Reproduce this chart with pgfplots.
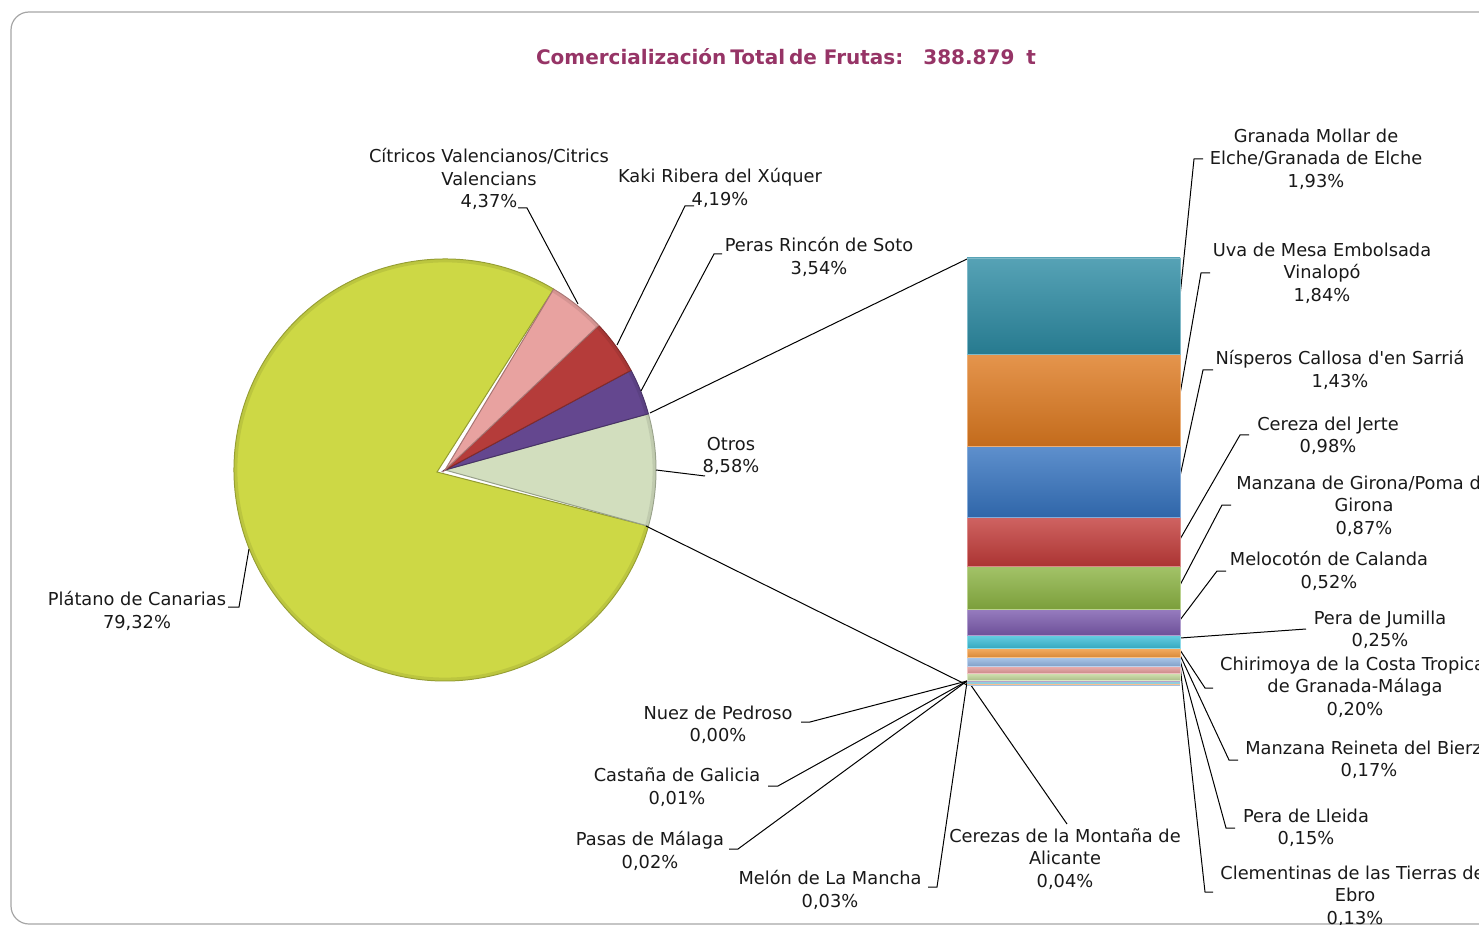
\documentclass[border=0pt]{standalone}
\usepackage{pgfplots}
\pgfplotsset{compat=1.18}
\usepackage{pgfplotstable}
\usepackage{fontspec}
\setmainfont{DejaVu Sans}
\newfontfamily\nq{DejaVu Sans}[Ligatures=TeXOff]
\usetikzlibrary{calc}

% pie colours
\definecolor{pPlat}{HTML}{CDD845}
\definecolor{pCitr}{HTML}{E8A2A0}
\definecolor{pKaki}{HTML}{B53C3A}
\definecolor{pPera}{HTML}{64478F}
\definecolor{pOtro}{HTML}{D2DEBE}
% bar colours
\definecolor{bGran}{HTML}{2C8BA3}
\definecolor{bUva}{HTML}{DE7A20}
\definecolor{bNisp}{HTML}{3674C0}
\definecolor{bCer}{HTML}{C33C3A}
\definecolor{bGir}{HTML}{8CB443}
\definecolor{bMelo}{HTML}{7C5BAE}
\definecolor{bJum}{HTML}{3FC1DB}
\definecolor{bChi}{HTML}{F49A3E}
\definecolor{bRei}{HTML}{93B6E2}
\definecolor{bLle}{HTML}{E59B9A}
\definecolor{bCle}{HTML}{C4D89C}
\definecolor{bMon}{HTML}{B4A3CA}
\definecolor{bMeln}{HTML}{93CDDD}
\definecolor{bPas}{HTML}{FAC090}
\definecolor{bCas}{HTML}{A7C0DE}
\definecolor{bNuez}{HTML}{D99694}
\definecolor{cTitle}{HTML}{963466}

\tikzset{
  lbl/.style={font=\fontsize{8.9}{11.25}\selectfont, align=center, inner sep=0pt, text=black!90},
  lead/.style={black, line width=0.5pt},
  seg/.style={top color=#1!80!white, bottom color=#1!88!black, draw=#1!60!white, line width=0.3pt},
}

% one pie slice: #1 index, #2 colour, #3 apex (pixel coords)
\newcommand\pieslice[3]{%
  \fill[#2, draw=#2!72!black, line width=0.5pt] (axis cs:#3) --
    ($(axis cs:445,470)+(\csname pieA#1\endcsname:105.5pt)$)
    arc[start angle=\csname pieA#1\endcsname, end angle=\csname pieB#1\endcsname, radius=105.5pt] -- cycle;
  \draw[#2!82!black, line width=1.6pt, opacity=0.45]
    ($(axis cs:445,470)+(\csname pieA#1\endcsname:104.6pt)$)
    arc[start angle=\csname pieA#1\endcsname, end angle=\csname pieB#1\endcsname, radius=104.6pt];}

\pgfplotstableread{
name value
Otros 8.58
Peras 3.54
Kaki 4.19
Citricos 4.37
Platano 79.32
}\pietable

\begin{document}
\begin{tikzpicture}
% start angles: "Otros" centred on the right
\pgfplotstablegetelem{0}{value}\of\pietable
\pgfmathsetmacro\pieacc{-1.8*\pgfplotsretval}
\xdef\pieacc{\pieacc}
\foreach \i in {0,...,4}{%
  \pgfplotstablegetelem{\i}{value}\of\pietable
  \pgfmathsetmacro\pienext{\pieacc+3.6*\pgfplotsretval}%
  \expandafter\xdef\csname pieA\i\endcsname{\pieacc}%
  \expandafter\xdef\csname pieB\i\endcsname{\pienext}%
  \xdef\pieacc{\pienext}%
}

% main frame in pixel coordinates
\begin{axis}[
  at={(0,0)}, anchor=south west,
  scale only axis, width=739.5pt, height=462.5pt,
  xmin=0, xmax=1479, ymin=0, ymax=925, y dir=reverse,
  hide axis, clip=true,
]
\draw[black!35, line width=0.6pt, rounded corners=9pt] (axis cs:11,924) rectangle (axis cs:1580,12);

\node[text=cTitle, font=\fontsize{10}{12}\selectfont\bfseries, inner sep=0pt] at (axis cs:786,57)
  {Comercialización\hspace{2pt}Total\hspace{2pt}de Frutas:\hspace{10pt}388.879\hspace{6pt}t};

% pie
\pieslice{4}{pPlat}{437,472}
\pieslice{0}{pOtro}{445,470}
\pieslice{1}{pPera}{445,470}
\pieslice{2}{pKaki}{445,470}
\pieslice{3}{pCitr}{445,470}

% connectors pie -> bar
\draw[lead] (axis cs:650,413) -- (axis cs:967,259);
\draw[lead] (axis cs:646,526) -- (axis cs:967,685);

% pie labels
\node[lbl] at (axis cs:489,179) {Cítricos Valencianos/Citrics\\Valencians\\4,37\%};
\draw[lead] (axis cs:518,208) -- (axis cs:527,208) -- (axis cs:578,304);
\node[lbl] at (axis cs:720,188) {Kaki Ribera del Xúquer\\4,19\%};
\draw[lead] (axis cs:694,206) -- (axis cs:685,206) -- (axis cs:617,345);
\node[lbl] at (axis cs:819,257) {Peras Rincón de Soto\\3,54\%};
\draw[lead] (axis cs:722,254) -- (axis cs:714,254) -- (axis cs:641,391);
\node[lbl] at (axis cs:731,456) {Otros\\8,58\%};
\draw[lead] (axis cs:656,470) -- (axis cs:705,476);
\node[lbl] at (axis cs:137,611) {Plátano de Canarias\\79,32\%};
\draw[lead] (axis cs:228,607) -- (axis cs:239,607) -- (axis cs:249,549);

% bar labels, right
\node[lbl] at (axis cs:1316,159) {Granada Mollar de\\Elche/Granada de Elche\\1,93\%};
\draw[lead] (axis cs:1203,159) -- (axis cs:1194,159) -- (axis cs:1179,306);
\node[lbl] at (axis cs:1322,273) {Uva de Mesa Embolsada\\Vinalopó\\1,84\%};
\draw[lead] (axis cs:1210,273) -- (axis cs:1201,273) -- (axis cs:1179,400);
\node[lbl] at (axis cs:1340,370) {Nísperos Callosa d{\nq'}en Sarriá\\1,43\%};
\draw[lead] (axis cs:1213,370) -- (axis cs:1203,370) -- (axis cs:1179,481);
\node[lbl] at (axis cs:1328,436) {Cereza del Jerte\\0,98\%};
\draw[lead] (axis cs:1249,435) -- (axis cs:1240,435) -- (axis cs:1179,541);
\node[lbl] at (axis cs:1364,506) {Manzana de Girona/Poma de\\Girona\\0,87\%};
\draw[lead] (axis cs:1231,505) -- (axis cs:1222,505) -- (axis cs:1179,587);
\node[lbl] at (axis cs:1329,571) {Melocotón de Calanda\\0,52\%};
\draw[lead] (axis cs:1226,571) -- (axis cs:1217,571) -- (axis cs:1180,620);
\node[lbl] at (axis cs:1380,630) {Pera de Jumilla\\0,25\%};
\draw[lead] (axis cs:1180,638) -- (axis cs:1306,629);
\node[lbl] at (axis cs:1355,687) {Chirimoya de la Costa Tropical\\de Granada-Málaga\\0,20\%};
\draw[lead] (axis cs:1180,650) -- (axis cs:1205,688) -- (axis cs:1213,688);
\node[lbl] at (axis cs:1369,760) {Manzana Reineta del Bierzo\\0,17\%};
\draw[lead] (axis cs:1180,655) -- (axis cs:1229,760) -- (axis cs:1238,760);
\node[lbl] at (axis cs:1306,828) {Pera de Lleida\\0,15\%};
\draw[lead] (axis cs:1180,660) -- (axis cs:1226,828) -- (axis cs:1235,828);
\node[lbl] at (axis cs:1355,896) {Clementinas de las Tierras del\\Ebro\\0,13\%};
\draw[lead] (axis cs:1180,665) -- (axis cs:1205,892) -- (axis cs:1213,892);

% bar labels, bottom
\node[lbl] at (axis cs:1065,859) {Cerezas de la Montaña de\\Alicante\\0,04\%};
\draw[lead] (axis cs:968,681) -- (axis cs:1067,824);
\node[lbl] at (axis cs:830,890) {Melón de La Mancha\\0,03\%};
\draw[lead] (axis cs:967,682) -- (axis cs:937,887) -- (axis cs:928,887);
\node[lbl] at (axis cs:650,851) {Pasas de Málaga\\0,02\%};
\draw[lead] (axis cs:967,681) -- (axis cs:738,849) -- (axis cs:729,849);
\node[lbl] at (axis cs:677,787) {Castaña de Galicia\\0,01\%};
\draw[lead] (axis cs:967,681) -- (axis cs:778,786) -- (axis cs:768,786);
\node[lbl] at (axis cs:718,725) {Nuez de Pedroso\\0,00\%};
\draw[lead] (axis cs:967,681) -- (axis cs:810,722) -- (axis cs:801,722);
\end{axis}

% stacked bar of "Otros"
\begin{axis}[
  at={(483.5pt,119.9pt)}, anchor=south west,
  scale only axis, width=106.5pt, height=213.6pt,
  xmin=-0.5, xmax=0.5, ymin=0, ymax=8.57, y dir=reverse,
  hide axis, clip=false,
  ybar stacked, bar width=106.5pt,
]
\addplot[seg=bGran] coordinates {(0,1.93)};
\addplot[seg=bUva]  coordinates {(0,1.84)};
\addplot[seg=bNisp] coordinates {(0,1.43)};
\addplot[seg=bCer]  coordinates {(0,0.98)};
\addplot[seg=bGir]  coordinates {(0,0.87)};
\addplot[seg=bMelo] coordinates {(0,0.52)};
\addplot[seg=bJum]  coordinates {(0,0.25)};
\addplot[seg=bChi]  coordinates {(0,0.20)};
\addplot[seg=bRei]  coordinates {(0,0.17)};
\addplot[seg=bLle]  coordinates {(0,0.15)};
\addplot[seg=bCle]  coordinates {(0,0.13)};
\addplot[fill=bMon,  draw=none] coordinates {(0,0.04)};
\addplot[fill=bMeln, draw=none] coordinates {(0,0.03)};
\addplot[fill=bPas,  draw=none] coordinates {(0,0.02)};
\addplot[fill=bCas,  draw=none] coordinates {(0,0.01)};
\addplot[fill=bNuez, draw=none] coordinates {(0,0.00)};
\end{axis}

\pgfresetboundingbox
\path[use as bounding box] (0,0) rectangle (739.5pt,462.5pt);
\end{tikzpicture}
\end{document}
